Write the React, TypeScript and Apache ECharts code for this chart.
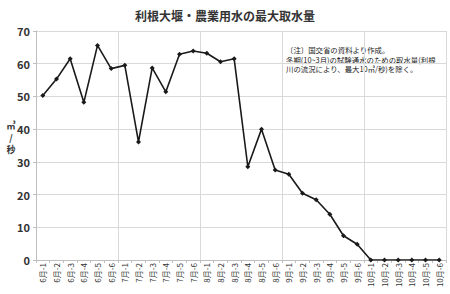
import React, { useEffect, useRef } from "react";
import * as echarts from "echarts";

const months = ["6月", "7月", "8月", "9月", "10月"];
const parts = ["1", "2", "3", "4", "5", "6"];
const categories: string[] = [];
months.forEach((m) => parts.forEach((p) => categories.push(`${m}-${p}`)));

const values = [
  50.3, 55.3, 61.5, 48.2, 65.6, 58.5,
  59.5, 36.1, 58.7, 51.4, 62.9, 63.9,
  63.2, 60.6, 61.5, 28.5, 40.0, 27.5,
  26.2, 20.4, 18.4, 14.0, 7.4, 4.8,
  0, 0, 0, 0, 0, 0,
];

const titleText = "利根大堰・農業用水の最大取水量";
const noteLines = [
  "〔注〕国交省の資料より作成。",
  "冬期(10~3月)の試験通水のための取水量(利根",
  "川の流況により、最大10㎥/秒)を除く。",
];
const yUnitParts = ["㎥", "/", "秒"];

export default function App() {
  const ref = useRef<HTMLDivElement>(null);
  useEffect(() => {
    if (!ref.current) return;
    const chart = echarts.init(ref.current, null, { renderer: "svg" });
    const font = "'Noto Sans CJK JP', 'Noto Sans', sans-serif";
    chart.setOption({
      animation: false,
      backgroundColor: "#ffffff",
      textStyle: { fontFamily: font },
      title: {
        text: titleText,
        left: "center",
        top: 4,
        textStyle: { fontSize: 12, fontWeight: "bold", color: "#333", fontFamily: font },
      },
      grid: { left: 36, right: 4, top: 31, bottom: 34, containLabel: false },
      xAxis: {
        type: "category",
        data: categories,
        boundaryGap: true,
        axisLine: { lineStyle: { color: "#bfbfbf", width: 1 } },
        axisTick: { show: true, length: 3, lineStyle: { color: "#bfbfbf" } },
        axisLabel: {
          interval: 0,
          rotate: 90,
          fontSize: 8,
          color: "#333",
          margin: 3,
          fontFamily: font,
        },
        splitLine: {
          show: true,
          interval: (index: number) => index % 6 === 0,
          lineStyle: { color: "#d9d9d9", width: 1 },
        },
      },
      yAxis: {
        type: "value",
        min: 0,
        max: 70,
        interval: 10,
        axisLine: { show: true, lineStyle: { color: "#bfbfbf", width: 1 } },
        axisTick: { show: true, length: 3, lineStyle: { color: "#bfbfbf" } },
        axisLabel: { fontSize: 11, color: "#333", fontWeight: "bold", margin: 6, fontFamily: font },
        splitLine: { show: true, lineStyle: { color: "#d9d9d9", width: 1 } },
      },
      graphic: [
        ...yUnitParts.map((t, i) => ({
          type: "text",
          x: 11,
          y: 125 + i * 12,
          style: {
            text: t,
            fill: "#333",
            align: "center",
            verticalAlign: "middle",
            font: `bold 9px ${font}`,
          },
        })),
        {
          type: "text",
          x: 286,
          y: 45,
          style: {
            text: noteLines.join("\n"),
            lineHeight: 9.5,
            fill: "#222",
            font: `7.4px ${font}`,
          },
        },
      ],
      series: [
        {
          type: "line",
          data: values,
          symbol: "diamond",
          symbolSize: 5,
          itemStyle: { color: "#1a1a1a" },
          lineStyle: { color: "#1a1a1a", width: 1.6 },
        },
      ],
    });
    return () => chart.dispose();
  }, []);
  return (
    <div
      ref={ref}
      style={{ position: "fixed", left: 0, top: 0, width: 450, height: 294 }}
    />
  );
}
